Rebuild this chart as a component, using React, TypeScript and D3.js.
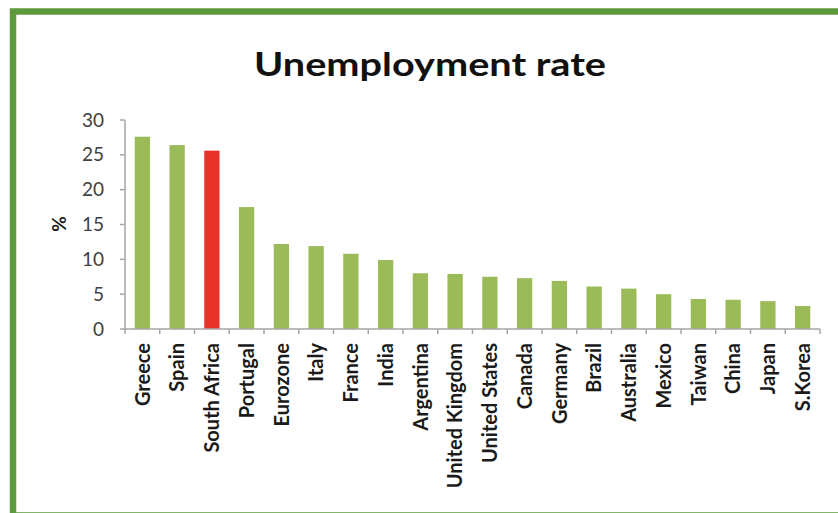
import React from "react";
import * as d3 from "d3";

const countries = [
  "Greece", "Spain", "South Africa", "Portugal", "Eurozone", "Italy", "France", "India",
  "Argentina", "United Kingdom", "United States", "Canada", "Germany", "Brazil", "Australia",
  "Mexico", "Taiwan", "China", "Japan", "S.Korea",
];
const rates = [27.6, 26.4, 25.6, 17.5, 12.2, 11.9, 10.8, 9.9, 8.0, 7.9, 7.5, 7.3, 6.9, 6.1, 5.8, 5.0, 4.3, 4.2, 4.0, 3.3];
const highlighted = ["South Africa"];
const yTicks = [0, 5, 10, 15, 20, 25, 30];
const title = "Unemployment rate";
const yLabel = "%";

const W = 838, H = 513;
const left = 125, right = 820, top = 120, bottom = 329;

export default function App() {
  const x = d3.scaleBand<string>().domain(countries).range([left, right]).paddingInner(0.56).paddingOuter(0.28);
  const y = d3.scaleLinear().domain([0, 30]).range([bottom, top]);
  const boundaries = d3.range(countries.length + 1).map((i) => left + i * ((right - left) / countries.length));
  const font = "Lato, 'Open Sans', sans-serif";
  return (
    <svg width={W} height={H} style={{ position: "absolute", left: 0, top: 0, background: "#fff" }}>
      <rect x={0} y={0} width={W} height={H} fill="#fff" />
      <rect x={13} y={11.5} width={W + 20} height={504} fill="none" stroke="#5e9a3c" strokeWidth={6.5} />
      <text x={430} y={76} textAnchor="middle" fontFamily={font} fontWeight="bold" fontSize={32}
        fill="#111" textLength={352} lengthAdjust="spacingAndGlyphs">{title}</text>
      {countries.map((c, i) => (
        <rect key={c} x={x(c)} y={y(rates[i])} width={x.bandwidth()} height={y(0) - y(rates[i])}
          fill={highlighted.includes(c) ? "#e8332a" : "#9bbb59"} />
      ))}
      <line x1={left} x2={left} y1={top} y2={bottom} stroke="#a6a6a6" strokeWidth={1.5} />
      <line x1={left} x2={right} y1={bottom} y2={bottom} stroke="#a6a6a6" strokeWidth={1.5} />
      {yTicks.map((t) => (
        <g key={t}>
          <line x1={left - 5} x2={left} y1={y(t)} y2={y(t)} stroke="#a6a6a6" strokeWidth={1.5} />
          <text x={104} y={y(t)} dy="0.35em" textAnchor="end" fontFamily={font} fontSize={19} fill="#404040">{t}</text>
        </g>
      ))}
      {boundaries.map((b, i) => (
        <line key={i} x1={b} x2={b} y1={bottom} y2={bottom + 5} stroke="#a6a6a6" strokeWidth={1.5} />
      ))}
      {countries.map((c) => {
        const cx = (x(c) as number) + x.bandwidth() / 2;
        return (
          <text key={c} transform={`translate(${cx},343) rotate(-90)`} dy="0.36em" textAnchor="end"
            fontFamily={font} fontWeight="bold" fontSize={20} fill="#1a1a1a">{c}</text>
        );
      })}
      <text transform={`translate(59,224) rotate(-90)`} dy="0.35em" textAnchor="middle" fontFamily={font}
        fontWeight="bold" fontSize={19} fill="#1a1a1a">{yLabel}</text>
    </svg>
  );
}
